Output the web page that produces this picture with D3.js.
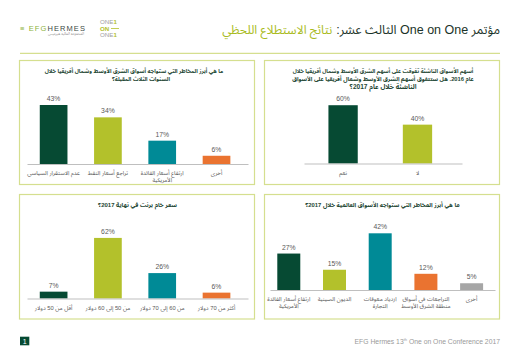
<!DOCTYPE html>
<html><head><meta charset="utf-8">
<script src="https://cdn.jsdelivr.net/npm/d3@7"></script>
<style>
body{margin:0;background:#fff}
svg{display:block}
text{font-family:"Liberation Sans",Arial,"Noto Sans Arabic","DejaVu Sans",sans-serif}
</style>
</head><body>
<svg id="c" width="520" height="360"></svg>
<script>
// ---------- data ----------
const headerTitleDark = "مؤتمر One on One الثالث عشر:";
const headerTitleGreen = "نتائج الاستطلاع اللحظي";
const footerText = ["EFG Hermes 13", "th", " One on One Conference 2017"];
const pageNumber = "1";

const q1Title = ["ما هي أبرز المخاطر التي ستواجه أسواق الشرق الأوسط وشمال أفريقيا خلال", "السنوات الثلاث المقبلة؟"];
const q1Categories = ["عدم الاستقرار السياسي", "تراجع أسعار النفط", "ارتفاع أسعار الفائدة\nالأمريكية", "أخرى"];
const q1Values = [43, 34, 17, 6];

const q2Title = ["أسهم الأسواق الناشئة تفوقت على أسهم الشرق الأوسط وشمال أفريقيا خلال", "عام 2016. هل ستتفوق أسهم الشرق الأوسط وشمال أفريقيا على الأسواق", "الناشئة خلال عام 2017؟"];
const q2Categories = ["نعم", "لا"];
const q2Values = [60, 40];

const q3Title = ["سعر خام برنت في نهاية 2017؟"];
const q3Categories = ["أقل من 50 دولار", "من 50 إلى 60 دولار", "من 60 إلى 70 دولار", "أكثر من 70 دولار"];
const q3Values = [7, 62, 26, 6];

const q4Title = ["ما هي أبرز المخاطر التي ستواجه الأسواق العالمية خلال 2017؟"];
const q4Categories = ["ارتفاع أسعار الفائدة\nالأمريكية", "الديون الصينية", "ازدياد معوقات\nالتجارة", "التراجعات في أسواق\nمنطقة الشرق الأوسط", "أخرى"];
const q4Values = [27, 15, 42, 12, 5];

// ---------- styles ----------
const C = {
  dark: "#064a33", olive: "#b3c12b", teal: "#008a96", orange: "#ea7330", gray: "#a6a6a6",
  border: "#d5df8f", title: "#1d4633", label: "#595959", axis: "#bfbfbf", titleDark: "#1a3328", titleGreen: "#a9bb22"
};
const palette = [C.dark, C.olive, C.teal, C.orange, C.gray];

const svg = d3.select("#c");

function alignRight(sel, xr) {
  const bb = sel.node().getBBox();
  sel.attr("x", +sel.attr("x") + (xr - (bb.x + bb.width)));
  return sel;
}
function fitWidth(sel, w, maxFs) {
  const fs = +sel.attr("font-size");
  const L = sel.node().getComputedTextLength();
  if (L > 0) sel.attr("font-size", Math.min(maxFs || 99, fs * w / L));
  return sel;
}

// ---------- header ----------
const logo = svg.append("text").attr("x", 20).attr("y", 31).attr("font-size", 7.5).attr("letter-spacing", 1.1);
logo.append("tspan").attr("fill", "#8db23a").text("≡ EFG");
logo.append("tspan").attr("fill", "#3c4a44").text("HERMES");
const sub = svg.append("text").attr("x", 84).attr("y", 34.5).attr("font-size", 3).attr("fill", "#8a8a8a")
  .attr("text-anchor", "end").text("المجموعة المالية هيرميس");
fitWidth(sub, 36);

const one = svg.append("g").attr("font-size", 6.2);
[["ONE", "1", 24], ["ON", "", 30.5], ["ONE", "1", 37]].forEach((r, i) => {
  const t = one.append("text").attr("x", 100).attr("y", r[2]);
  t.append("tspan").attr("fill", i === 1 ? C.olive : "#a0a0a0").attr("font-weight", i === 1 ? "bold" : "normal").text(r[0]);
  if (r[1]) t.append("tspan").attr("fill", C.olive).attr("font-weight", "bold").text(r[1]);
});
one.append("line").attr("x1", 111).attr("x2", 119).attr("y1", 28.5).attr("y2", 28.5).attr("stroke", C.olive).attr("stroke-width", 0.8);

const tDark = svg.append("text").attr("x", 500).attr("y", 34).attr("font-size", 11).attr("fill", C.titleDark)
  .attr("direction", "rtl").style("unicode-bidi", "embed").text(headerTitleDark);
fitWidth(tDark, 200, 12.5);
alignRight(tDark, 500);
const bbD = tDark.node().getBBox();
const tGreen = svg.append("text").attr("x", bbD.x).attr("y", 34).attr("font-size", 11).attr("fill", C.titleGreen)
  .attr("direction", "rtl").style("unicode-bidi", "embed").text(headerTitleGreen);
fitWidth(tGreen, 110, 12.5);
alignRight(tGreen, bbD.x - 4);

svg.append("line").attr("x1", 20).attr("x2", 500).attr("y1", 53.3).attr("y2", 53.3)
  .attr("stroke", C.border).attr("stroke-width", 1.2);

// ---------- charts ----------
function chart(o) {
  const g = svg.append("g");
  g.append("rect").attr("x", o.px0).attr("y", o.py0).attr("width", o.px1 - o.px0).attr("height", o.py1 - o.py0)
    .attr("fill", "#fff").attr("stroke", C.border).attr("stroke-width", 1.2);
  o.title.forEach((ln, i) => {
    const t = g.append("text").attr("x", o.titleX[i]).attr("y", o.titleY + i * 8.4)
      .attr("text-anchor", "middle").attr("direction", "rtl").style("unicode-bidi", "embed")
      .attr("font-size", 7).attr("font-weight", "bold").attr("fill", C.title).text(ln);
    fitWidth(t, o.titleW[i], 7);
  });
  const x = d3.scaleBand().domain(o.categories).range(o.xRange)
    .paddingInner(o.pi).paddingOuter(o.po).align(o.align);
  const y = d3.scaleLinear().domain([0, o.yMax]).range([o.base, o.base - o.h]);
  const data = o.categories.map((c, i) => ({ c, v: o.values[i], col: palette[i] }));
  g.selectAll(".bar").data(data).join("rect")
    .attr("x", d => x(d.c)).attr("width", x.bandwidth())
    .attr("y", d => y(d.v)).attr("height", d => y(0) - y(d.v)).attr("fill", d => d.col);
  g.selectAll(".val").data(data).join("text")
    .attr("x", d => x(d.c) + x.bandwidth() / 2).attr("y", d => y(d.v) - 4)
    .attr("text-anchor", "middle").attr("font-size", 6.8).attr("fill", C.label).text(d => d.v + "%");
  const ax = g.append("g").attr("transform", `translate(0,${o.base})`)
    .call(d3.axisBottom(x).tickSize(0).tickPadding(0));
  ax.select(".domain").attr("stroke", C.axis).attr("stroke-width", 1);
  ax.selectAll(".tick text").each(function (d) {
    const t = d3.select(this).attr("y", null).attr("dy", null).attr("font-size", 5.8)
      .attr("fill", C.label).attr("font-family", null).attr("direction", "rtl").style("unicode-bidi", "embed");
    t.text(null);
    d.split("\n").forEach((ln, i) => {
      t.append("tspan").attr("x", 0).attr("y", 11 + i * 7).text(ln);
    });
  });
}

chart({ px0: 19.5, px1: 254.5, py0: 60.5, py1: 184.5, title: q1Title, titleX: [134, 141], titleW: [179, 58], titleY: 72.5,
  categories: q1Categories, values: q1Values, xRange: [27, 248], pi: 0.49, po: 0.28, align: 0.42,
  base: 164, h: 68.6, yMax: 50 });
chart({ px0: 264.5, px1: 499.5, py0: 60.5, py1: 184.5, title: q2Title, titleX: [383, 383, 383], titleW: [181, 182, 67], titleY: 72.5,
  categories: q2Categories, values: q2Values, xRange: [304, 462], pi: 0.606, po: 0.365, align: 0.45,
  base: 163.5, h: 68, yMax: 70 });
chart({ px0: 19.5, px1: 254.5, py0: 194.5, py1: 319, title: q3Title, titleX: [137.5], titleW: [79], titleY: 206.5,
  categories: q3Categories, values: q3Values, xRange: [27, 248], pi: 0.49, po: 0.28, align: 0.42,
  base: 298.5, h: 68.4, yMax: 70 });
chart({ px0: 264.5, px1: 499.5, py0: 194.5, py1: 319, title: q4Title, titleX: [382.5], titleW: [155], titleY: 206.5,
  categories: q4Categories, values: q4Values, xRange: [270, 495], pi: 0.497, po: 0.21, align: 0.38,
  base: 290, h: 67.5, yMax: 50 });

// ---------- footer ----------
svg.append("rect").attr("x", 20).attr("y", 336.7).attr("width", 9.3).attr("height", 8.6).attr("fill", C.dark);
svg.append("text").attr("x", 24.6).attr("y", 343.5).attr("text-anchor", "middle").attr("font-size", 7)
  .attr("fill", "#fff").text(pageNumber);
const ft = svg.append("text").attr("x", 500).attr("y", 343.5).attr("text-anchor", "end")
  .attr("font-size", 6.8).attr("fill", "#9a9a9a");
ft.append("tspan").text(footerText[0]);
ft.append("tspan").attr("font-size", 4).attr("dy", -2.5).text(footerText[1]);
ft.append("tspan").attr("dy", 2.5).text(footerText[2]);
</script>
</body></html>
